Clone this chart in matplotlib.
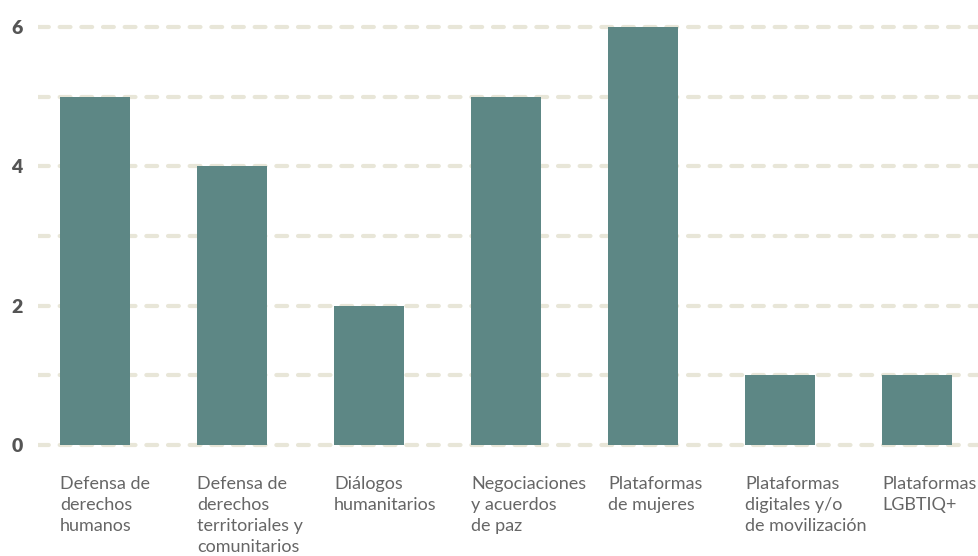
import matplotlib.pyplot as plt
from matplotlib.transforms import blended_transform_factory

categories = [
    "Defensa de\nderechos\nhumanos",
    "Defensa de\nderechos\nterritoriales y\ncomunitarios",
    "Diálogos\nhumanitarios",
    "Negociaciones\ny acuerdos\nde paz",
    "Plataformas\nde mujeres",
    "Plataformas\ndigitales y/o\nde movilización",
    "Plataformas\nLGBTIQ+",
]
values = [5, 4, 2, 5, 6, 1, 1]
tick_values = [0, 2, 4, 6]

bar_color = "#5d8785"
grid_color = "#e8e6d8"
text_color = "#666666"
width = 0.51

fig = plt.figure(figsize=(9.79, 5.56), dpi=100)
ax = fig.add_axes([38 / 979, 104 / 556, 941 / 979, 432 / 556])

x = list(range(len(categories)))
ax.bar(x, values, width=width, color=bar_color, zorder=3)

for y in range(0, 7):
    ax.axhline(y, color=grid_color, lw=3, linestyle=(0, (2.6, 2.6)),
               dash_capstyle="round", zorder=1)

ax.set_xlim(-0.416, 6.45)
ax.set_ylim(-0.1, 6.1)
ax.set_xticks([])
ax.set_yticks(tick_values)
ax.set_yticklabels([str(v) for v in tick_values], fontsize=14,
                   fontweight="heavy", color="#555555", family="Lato")
ax.tick_params(axis="y", length=0, pad=11)
for side in ax.spines.values():
    side.set_visible(False)

trans = blended_transform_factory(ax.transData, fig.transFigure)
for i, label in enumerate(categories):
    ax.text(i - width / 2, 1 - 476 / 556, label, transform=trans,
            ha="left", va="top", fontsize=13, color=text_color,
            family="Lato", linespacing=1.38)

fig.savefig("out.png", dpi=100)
